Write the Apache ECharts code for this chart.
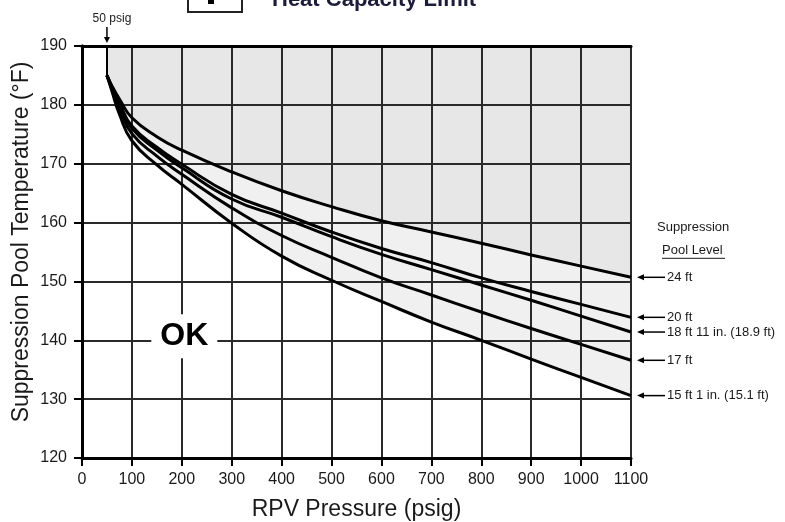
<!DOCTYPE html>
<html>
<head>
<meta charset="utf-8">
<script src="https://cdn.jsdelivr.net/npm/echarts@6/dist/echarts.min.js"></script>
<style>
  html, body { margin: 0; background: #fff; }
  #chart { width: 785px; height: 522px; }
</style>
</head>
<body>
<div id="chart"></div>
<script>
// RPV pressure (psig) where the curves are read
const pressure = [50, 60, 75, 100, 150, 200, 300, 400, 500, 600, 700, 800, 900, 1000, 1100];

// suppression pool temperature (°F) per pool level
const level24  = [185, 183.2, 181.0, 177.8, 174.6, 172.3, 168.6, 165.4, 162.7, 160.3, 158.4, 156.5, 154.5, 152.6, 150.7];
const level20  = [185, 183.0, 180.3, 176.4, 172.8, 169.9, 164.8, 161.6, 158.4, 155.6, 153.2, 150.6, 148.3, 146.1, 143.9];
const level189 = [185, 182.9, 180.0, 176.0, 172.3, 169.3, 164.0, 160.9, 157.6, 154.6, 152.0, 149.4, 146.8, 144.1, 141.4];
const level17  = [185, 182.7, 179.4, 175.1, 171.3, 168.2, 162.5, 157.8, 154.1, 150.6, 147.7, 144.8, 142.0, 139.3, 136.6];
const level151 = [185, 182.3, 178.4, 173.9, 169.8, 166.5, 159.9, 154.3, 150.2, 146.6, 143.1, 140.0, 136.8, 133.7, 130.6];

const levelNames = ['24 ft', '20 ft', '18 ft 11 in. (18.9 ft)', '17 ft', '15 ft 1 in. (15.1 ft)'];
const levels = [level24, level20, level189, level17, level151];

const okPoint = [205, 140.7];
const font = '"Liberation Sans", Arial, sans-serif';
const ink = '#1a1a1a';
const smooth = 0.5;

function pairs(vals) {
    return pressure.map((p, i) => [p, vals[i]]);
}

const chart = echarts.init(document.getElementById('chart'));

const curveSeries = levels.map((vals, i) => ({
    name: levelNames[i],
    type: 'line',
    data: pairs(vals),
    smooth: smooth,
    symbol: 'none',
    silent: true,
    z: 5,
    lineStyle: { color: '#000', width: 3 }
}));

// vertical bound at 50 psig
curveSeries[0].markLine = {
    silent: true,
    symbol: ['none', 'none'],
    label: { show: false },
    lineStyle: { color: '#000', width: 2, type: 'solid' },
    data: [[{ coord: [50, 185] }, { coord: [50, 190] }]]
};

function fill(vals, origin, color, z) {
    return {
        type: 'line', data: pairs(vals), smooth: smooth,
        symbol: 'none', silent: true, z: z,
        lineStyle: { opacity: 0 },
        areaStyle: { origin: origin, color: color, opacity: 1 }
    };
}

const option = {
    animation: false,
    backgroundColor: '#fff',
    grid: { left: 82, right: 154, top: 46, bottom: 64, containLabel: false, outerBoundsMode: 'none' },
    xAxis: [{
        type: 'value', min: 0, max: 1100, interval: 100, z: 3,
        axisLine: { show: true, onZero: false, lineStyle: { color: '#000', width: 3 } },
        axisTick: { show: true, length: 8, lineStyle: { color: '#000', width: 2 } },
        axisLabel: { color: ink, fontSize: 16, margin: 14, fontFamily: font, formatter: v => String(v) },
        splitLine: { show: true, lineStyle: { color: '#2a2a2a', width: 2 } },
        name: 'RPV Pressure (psig)', nameLocation: 'middle', nameGap: 40, nameMoveOverlap: false,
        nameTextStyle: { fontSize: 23, color: ink, fontFamily: font }
    }, {
        type: 'value', min: 0, max: 1100, position: 'top', z: 3,
        axisLine: { show: true, lineStyle: { color: '#000', width: 3 } },
        axisTick: { show: false }, axisLabel: { show: false }, splitLine: { show: false }
    }],
    yAxis: [{
        type: 'value', min: 120, max: 190, interval: 10, z: 3,
        axisLine: { show: true, onZero: false, lineStyle: { color: '#000', width: 3 } },
        axisTick: { show: true, length: 8, lineStyle: { color: '#000', width: 2 } },
        axisLabel: { color: ink, fontSize: 16, margin: 15, fontFamily: font },
        splitLine: { show: true, lineStyle: { color: '#2a2a2a', width: 2 } },
        name: 'Suppression Pool Temperature (°F)', nameLocation: 'middle', nameGap: 49, nameMoveOverlap: false,
        nameTextStyle: { fontSize: 23, color: ink, fontFamily: font, padding: [0, 0, 0, 20] }
    }, {
        type: 'value', min: 120, max: 190, position: 'right', z: 3,
        axisLine: { show: true, lineStyle: { color: '#000', width: 3 } },
        axisTick: { show: false }, axisLabel: { show: false }, splitLine: { show: false }
    }],
    series: [
        fill(level24, 'end', '#e7e7e7', 1),
        fill(level24, 'start', '#f0f0f0', 1),
        fill(level151, 'start', '#ffffff', 2)
    ].concat(curveSeries)
};

chart.setOption(option);

// annotations placed from the axis scales
const g = [];
const toPx = v => chart.convertToPixel({ gridIndex: 0 }, v);
const p50 = toPx([50, 190]);

// title strip (cut off at the top edge)
g.push({ type: 'rect', shape: { x: 188, y: -24, width: 54, height: 36 },
    style: { fill: '#fff', stroke: '#222', lineWidth: 2 } });
g.push({ type: 'rect', z: 10, shape: { x: 208, y: -4, width: 6, height: 8 },
    style: { fill: '#000' } });
g.push({ type: 'text', x: 272, y: 11, style: { text: 'Heat Capacity Limit', fill: '#1c1c3c',
    font: 'bold 22px ' + font, align: 'left', verticalAlign: 'bottom' } });

// 50 psig marker
g.push({ type: 'text', x: p50[0] + 5, y: p50[1] - 27, style: { text: '50 psig', fill: ink,
    font: '12px ' + font, align: 'center', verticalAlign: 'middle' } });
g.push({ type: 'line', shape: { x1: p50[0], y1: p50[1] - 19, x2: p50[0], y2: p50[1] - 6 },
    style: { stroke: '#000', lineWidth: 1.5 } });
g.push({ type: 'polygon', shape: { points: [[p50[0], p50[1] - 3], [p50[0] - 3, p50[1] - 9], [p50[0] + 3, p50[1] - 9]] },
    style: { fill: '#000' } });

// OK label
const ok = toPx(okPoint);
g.push({ type: 'text', x: ok[0], y: ok[1], z: 10, style: { text: 'OK', fill: '#000',
    font: 'bold 32px ' + font, align: 'center', verticalAlign: 'middle',
    backgroundColor: '#fff', padding: [7, 9, 5, 9] } });

// pool level callouts
let firstY = 0;
levels.forEach((vals, i) => {
    const end = toPx([1100, vals[vals.length - 1]]);
    if (i === 0) firstY = end[1];
    const tip = end[0] + 6;
    g.push({ type: 'line', shape: { x1: tip + 4, y1: end[1], x2: tip + 28, y2: end[1] },
        style: { stroke: '#000', lineWidth: 1.5 } });
    g.push({ type: 'polygon', shape: { points: [[tip, end[1]], [tip + 7, end[1] - 3], [tip + 7, end[1] + 3]] },
        style: { fill: '#000' } });
    g.push({ type: 'text', x: tip + 30, y: end[1], style: { text: levelNames[i], fill: ink,
        font: '13px ' + font, align: 'left', verticalAlign: 'middle' } });
});
const right = toPx([1100, 190])[0];
g.push({ type: 'text', x: right + 26, y: firstY - 50, style: { text: 'Suppression', fill: ink,
    font: '13px ' + font, align: 'left', verticalAlign: 'middle' } });
g.push({ type: 'text', x: right + 31, y: firstY - 27, style: { text: 'Pool Level', fill: ink,
    font: '13px ' + font, align: 'left', verticalAlign: 'middle' } });
g.push({ type: 'line', shape: { x1: right + 31, y1: firstY - 19, x2: right + 94, y2: firstY - 19 },
    style: { stroke: ink, lineWidth: 1 } });

chart.setOption({ graphic: g });
</script>
</body>
</html>
